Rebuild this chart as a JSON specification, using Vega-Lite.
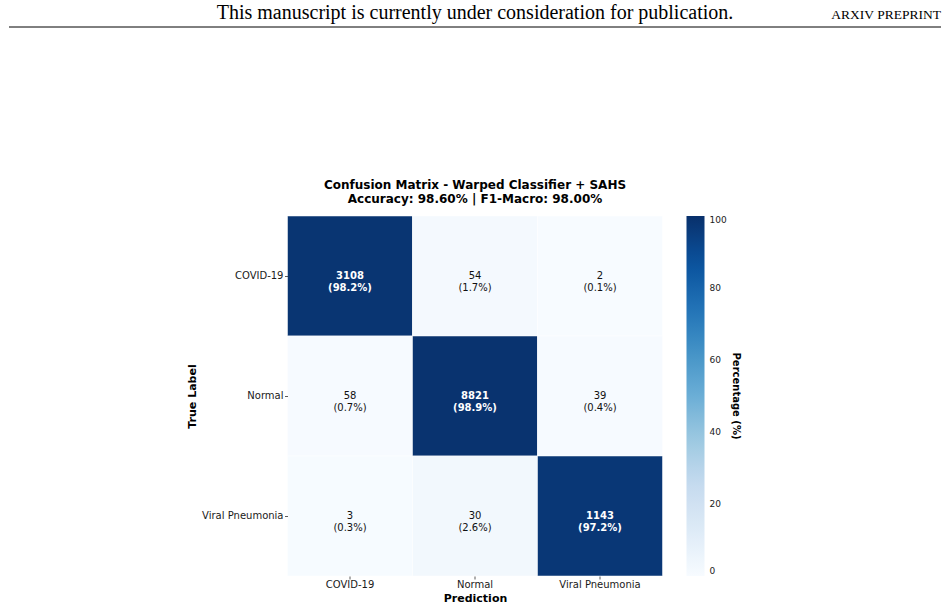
{
  "$schema": "https://vega.github.io/schema/vega-lite/v6.json",
  "background": "white",
  "padding": {"left": 8, "right": 8, "top": 0, "bottom": 0},
  "center": true,
  "bounds": "flush",
  "spacing": 189,
  "resolve": {"scale": {"color": "independent"}, "legend": {"color": "independent"}},
  "config": {
    "view": {"stroke": null},
    "font": "DejaVu Sans",
    "axis": {
      "domain": false,
      "grid": false,
      "labelFont": "DejaVu Sans",
      "labelFontSize": 10,
      "labelColor": "#1a1a1a",
      "tickColor": "#333333",
      "tickSize": 3,
      "tickWidth": 0.8,
      "titleFont": "DejaVu Sans",
      "titleFontSize": 11,
      "titleFontWeight": "bold",
      "titleColor": "#000000"
    }
  },
  "vconcat": [
    {
      "width": 932,
      "height": 27,
      "data": {
        "values": [
          {"kind": "note", "text": "This manuscript is currently under consideration for publication."},
          {"kind": "tag", "text": "ARXIV PREPRINT"}
        ]
      },
      "layer": [
        {
          "transform": [{"filter": "datum.kind === 'note'"}],
          "mark": {"type": "text", "font": "Liberation Serif", "fontSize": 20, "align": "center", "baseline": "alphabetic", "color": "#000000"},
          "encoding": {
            "text": {"field": "text"},
            "x": {"datum": 0.5, "type": "quantitative", "scale": {"domain": [0, 1], "nice": false, "zero": false}, "axis": null},
            "y": {"datum": 0.28, "type": "quantitative", "scale": {"domain": [0, 1], "nice": false, "zero": false}, "axis": null}
          }
        },
        {
          "transform": [{"filter": "datum.kind === 'tag'"}],
          "mark": {"type": "text", "font": "Liberation Serif", "fontSize": 13.5, "align": "right", "baseline": "alphabetic", "color": "#000000"},
          "encoding": {
            "text": {"field": "text"},
            "x": {"datum": 1, "type": "quantitative", "axis": null},
            "y": {"datum": 0.28, "type": "quantitative", "axis": null}
          }
        },
        {
          "transform": [{"filter": "datum.kind === 'note'"}],
          "mark": {"type": "rule", "color": "#000000", "strokeWidth": 1},
          "encoding": {
            "y": {"datum": 0, "type": "quantitative", "axis": null}
          }
        }
      ]
    },
    {
      "width": 375,
      "height": 360,
      "title": {
        "text": ["Confusion Matrix - Warped Classifier + SAHS", "Accuracy: 98.60% | F1-Macro: 98.00%"],
        "font": "DejaVu Sans",
        "fontSize": 12,
        "fontWeight": "bold",
        "lineHeight": 14,
        "color": "#000000",
        "anchor": "middle",
        "offset": 10
      },
      "data": {
        "values": [
          {"actual": "COVID-19", "pred": "COVID-19", "count": 3108, "pct": 98.2},
          {"actual": "COVID-19", "pred": "Normal", "count": 54, "pct": 1.7},
          {"actual": "COVID-19", "pred": "Viral Pneumonia", "count": 2, "pct": 0.1},
          {"actual": "Normal", "pred": "COVID-19", "count": 58, "pct": 0.7},
          {"actual": "Normal", "pred": "Normal", "count": 8821, "pct": 98.9},
          {"actual": "Normal", "pred": "Viral Pneumonia", "count": 39, "pct": 0.4},
          {"actual": "Viral Pneumonia", "pred": "COVID-19", "count": 3, "pct": 0.3},
          {"actual": "Viral Pneumonia", "pred": "Normal", "count": 30, "pct": 2.6},
          {"actual": "Viral Pneumonia", "pred": "Viral Pneumonia", "count": 1143, "pct": 97.2}
        ]
      },
      "transform": [
        {"calculate": "datum.count + '\\n(' + format(datum.pct, '.1f') + '%)'", "as": "label"}
      ],
      "encoding": {
        "x": {
          "field": "pred",
          "type": "nominal",
          "sort": ["COVID-19", "Normal", "Viral Pneumonia"],
          "title": "Prediction",
          "axis": {"labelAngle": 0, "labelPadding": 0.5, "titlePadding": 3}
        },
        "y": {
          "field": "actual",
          "type": "nominal",
          "sort": ["COVID-19", "Normal", "Viral Pneumonia"],
          "title": "True Label",
          "axis": {"labelPadding": 1.5, "titlePadding": 4}
        }
      },
      "layer": [
        {
          "mark": {"type": "rect", "stroke": "#ffffff", "strokeWidth": 0.5},
          "encoding": {
            "color": {
              "field": "pct",
              "type": "quantitative",
              "scale": {
                "domain": [0, 12.5, 25, 37.5, 50, 62.5, 75, 87.5, 100],
                "range": ["#f7fbff", "#deebf7", "#c6dbef", "#9ecae1", "#6baed6", "#4292c6", "#2171b5", "#08519c", "#08306b"]
              },
              "legend": {
                "title": "Percentage (%)",
                "orient": "right",
                "direction": "vertical",
                "offset": 24,
                "padding": 0,
                "gradientLength": 360,
                "gradientThickness": 18,
                "gradientStrokeWidth": 0,
                "values": [0, 20, 40, 60, 80, 100],
                "labelOverlap": false,
                "labelFont": "DejaVu Sans",
                "labelFontSize": 9,
                "labelColor": "#222222",
                "labelOffset": 5,
                "labelBaseline": "middle",
                "titleOrient": "right",
                "titleAngle": 270,
                "titleAnchor": "middle",
                "titleFont": "DejaVu Sans",
                "titleFontSize": 10,
                "titleFontWeight": "bold",
                "titleColor": "#000000",
                "titlePadding": 4
              }
            }
          }
        },
        {
          "transform": [{"filter": "datum.pct > 50"}],
          "mark": {"type": "text", "color": "#ffffff", "fontWeight": "bold", "fontSize": 10, "lineBreak": "\n", "lineHeight": 12, "baseline": "middle"},
          "encoding": {"text": {"field": "label"}}
        },
        {
          "transform": [{"filter": "datum.pct <= 50"}],
          "mark": {"type": "text", "color": "#111111", "fontSize": 10, "lineBreak": "\n", "lineHeight": 12, "baseline": "middle"},
          "encoding": {"text": {"field": "label"}}
        }
      ]
    }
  ]
}
